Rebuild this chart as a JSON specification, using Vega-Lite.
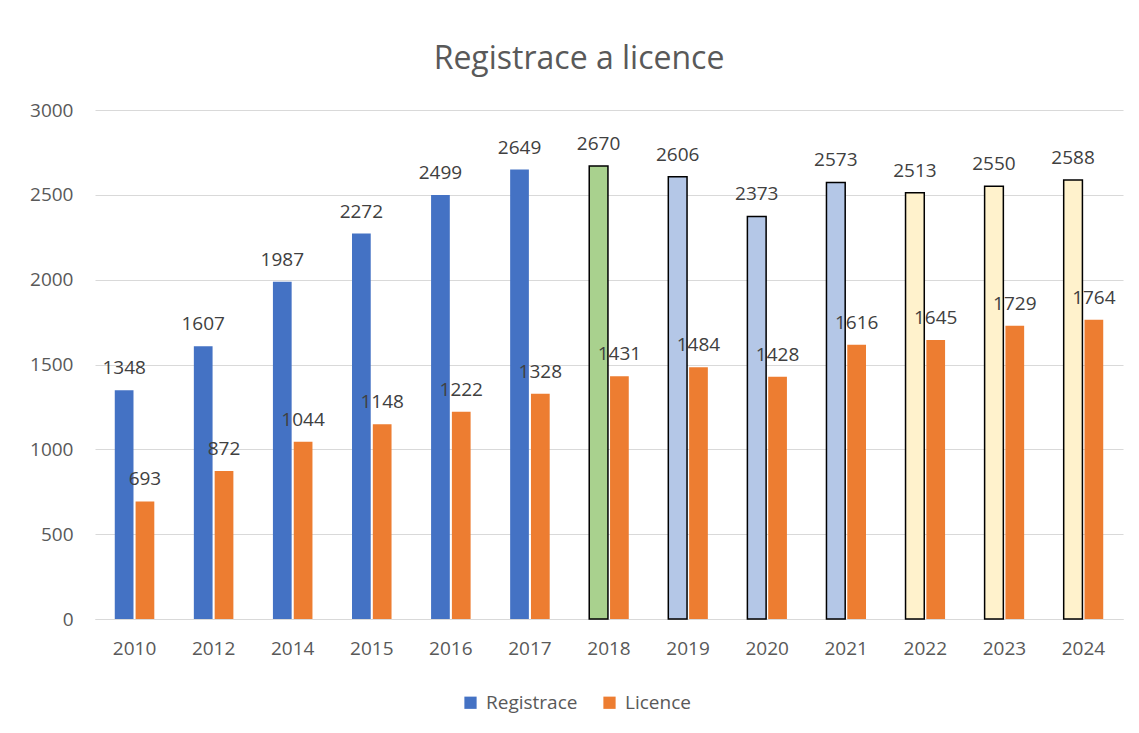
{
  "$schema": "https://vega.github.io/schema/vega-lite/v6.json",
  "width": 1028,
  "height": 509,
  "autosize": {"type": "none"},
  "padding": {"left": 95, "top": 110, "right": 16, "bottom": 114},
  "background": "white",
  "title": {"text": "Registrace a licence", "fontSize": 32, "font": "Open Sans", "fontWeight": "normal", "color": "#595959", "offset": 25, "dx": -30},
  "config": {"view": {"stroke": null}},
  "data": {"values": [
    {"rok": "2010", "rada": "Registrace", "hodnota": 1348, "obdobi": "2010-2017"},
    {"rok": "2010", "rada": "Licence", "hodnota": 693, "obdobi": "2010-2017"},
    {"rok": "2012", "rada": "Registrace", "hodnota": 1607, "obdobi": "2010-2017"},
    {"rok": "2012", "rada": "Licence", "hodnota": 872, "obdobi": "2010-2017"},
    {"rok": "2014", "rada": "Registrace", "hodnota": 1987, "obdobi": "2010-2017"},
    {"rok": "2014", "rada": "Licence", "hodnota": 1044, "obdobi": "2010-2017"},
    {"rok": "2015", "rada": "Registrace", "hodnota": 2272, "obdobi": "2010-2017"},
    {"rok": "2015", "rada": "Licence", "hodnota": 1148, "obdobi": "2010-2017"},
    {"rok": "2016", "rada": "Registrace", "hodnota": 2499, "obdobi": "2010-2017"},
    {"rok": "2016", "rada": "Licence", "hodnota": 1222, "obdobi": "2010-2017"},
    {"rok": "2017", "rada": "Registrace", "hodnota": 2649, "obdobi": "2010-2017"},
    {"rok": "2017", "rada": "Licence", "hodnota": 1328, "obdobi": "2010-2017"},
    {"rok": "2018", "rada": "Registrace", "hodnota": 2670, "obdobi": "2018"},
    {"rok": "2018", "rada": "Licence", "hodnota": 1431, "obdobi": "2018"},
    {"rok": "2019", "rada": "Registrace", "hodnota": 2606, "obdobi": "2019-2021"},
    {"rok": "2019", "rada": "Licence", "hodnota": 1484, "obdobi": "2019-2021"},
    {"rok": "2020", "rada": "Registrace", "hodnota": 2373, "obdobi": "2019-2021"},
    {"rok": "2020", "rada": "Licence", "hodnota": 1428, "obdobi": "2019-2021"},
    {"rok": "2021", "rada": "Registrace", "hodnota": 2573, "obdobi": "2019-2021"},
    {"rok": "2021", "rada": "Licence", "hodnota": 1616, "obdobi": "2019-2021"},
    {"rok": "2022", "rada": "Registrace", "hodnota": 2513, "obdobi": "2022-2024"},
    {"rok": "2022", "rada": "Licence", "hodnota": 1645, "obdobi": "2022-2024"},
    {"rok": "2023", "rada": "Registrace", "hodnota": 2550, "obdobi": "2022-2024"},
    {"rok": "2023", "rada": "Licence", "hodnota": 1729, "obdobi": "2022-2024"},
    {"rok": "2024", "rada": "Registrace", "hodnota": 2588, "obdobi": "2022-2024"},
    {"rok": "2024", "rada": "Licence", "hodnota": 1764, "obdobi": "2022-2024"}
  ]},
  "encoding": {
    "x": {"field": "rok", "type": "nominal", "sort": null,
      "scale": {"paddingInner": 0.5, "paddingOuter": 0.25},
      "axis": {"title": null, "labelAngle": 0, "labelFontSize": 19, "labelFont": "Open Sans", "labelColor": "#595959", "ticks": false, "domainColor": "#D9D9D9", "labelPadding": 20}},
    "xOffset": {"field": "rada", "type": "nominal", "sort": ["Registrace", "Licence"], "scale": {"paddingInner": 0.1}},
    "y": {"field": "hodnota", "type": "quantitative", "scale": {"domain": [0, 3000]},
      "axis": {"title": null, "values": [0, 500, 1000, 1500, 2000, 2500, 3000], "format": "d", "labelFontSize": 19, "labelFont": "Open Sans", "labelColor": "#595959", "ticks": false, "domain": false, "gridColor": "#D9D9D9", "labelPadding": 22}}
  },
  "layer": [
    {"mark": {"type": "bar"},
     "encoding": {"color": {"field": "rada", "type": "nominal", "sort": ["Registrace", "Licence"],
       "scale": {"domain": ["Registrace", "Licence"], "range": ["#4472C4", "#ED7D31"]},
       "legend": {"orient": "none", "legendX": 366, "legendY": 583, "direction": "horizontal", "title": null, "symbolType": "square", "symbolSize": 150, "symbolStrokeWidth": 0, "labelFontSize": 19, "labelFont": "Open Sans", "labelColor": "#595959", "columnPadding": 22, "labelOffset": 6}}}},
    {"transform": [{"filter": "datum.rada === 'Registrace' && datum.obdobi !== '2010-2017'"}],
     "mark": {"type": "bar", "stroke": "black", "strokeWidth": 1.5},
     "encoding": {"fill": {"field": "obdobi", "type": "nominal",
       "scale": {"domain": ["2018", "2019-2021", "2022-2024"], "range": ["#A9D18E", "#B4C7E7", "#FFF2CC"]}, "legend": null}}},
    {"mark": {"type": "text", "dy": -22, "fontSize": 19, "font": "Open Sans", "color": "#404040"},
     "encoding": {"text": {"field": "hodnota", "type": "quantitative", "format": "d"}}}
  ]
}
